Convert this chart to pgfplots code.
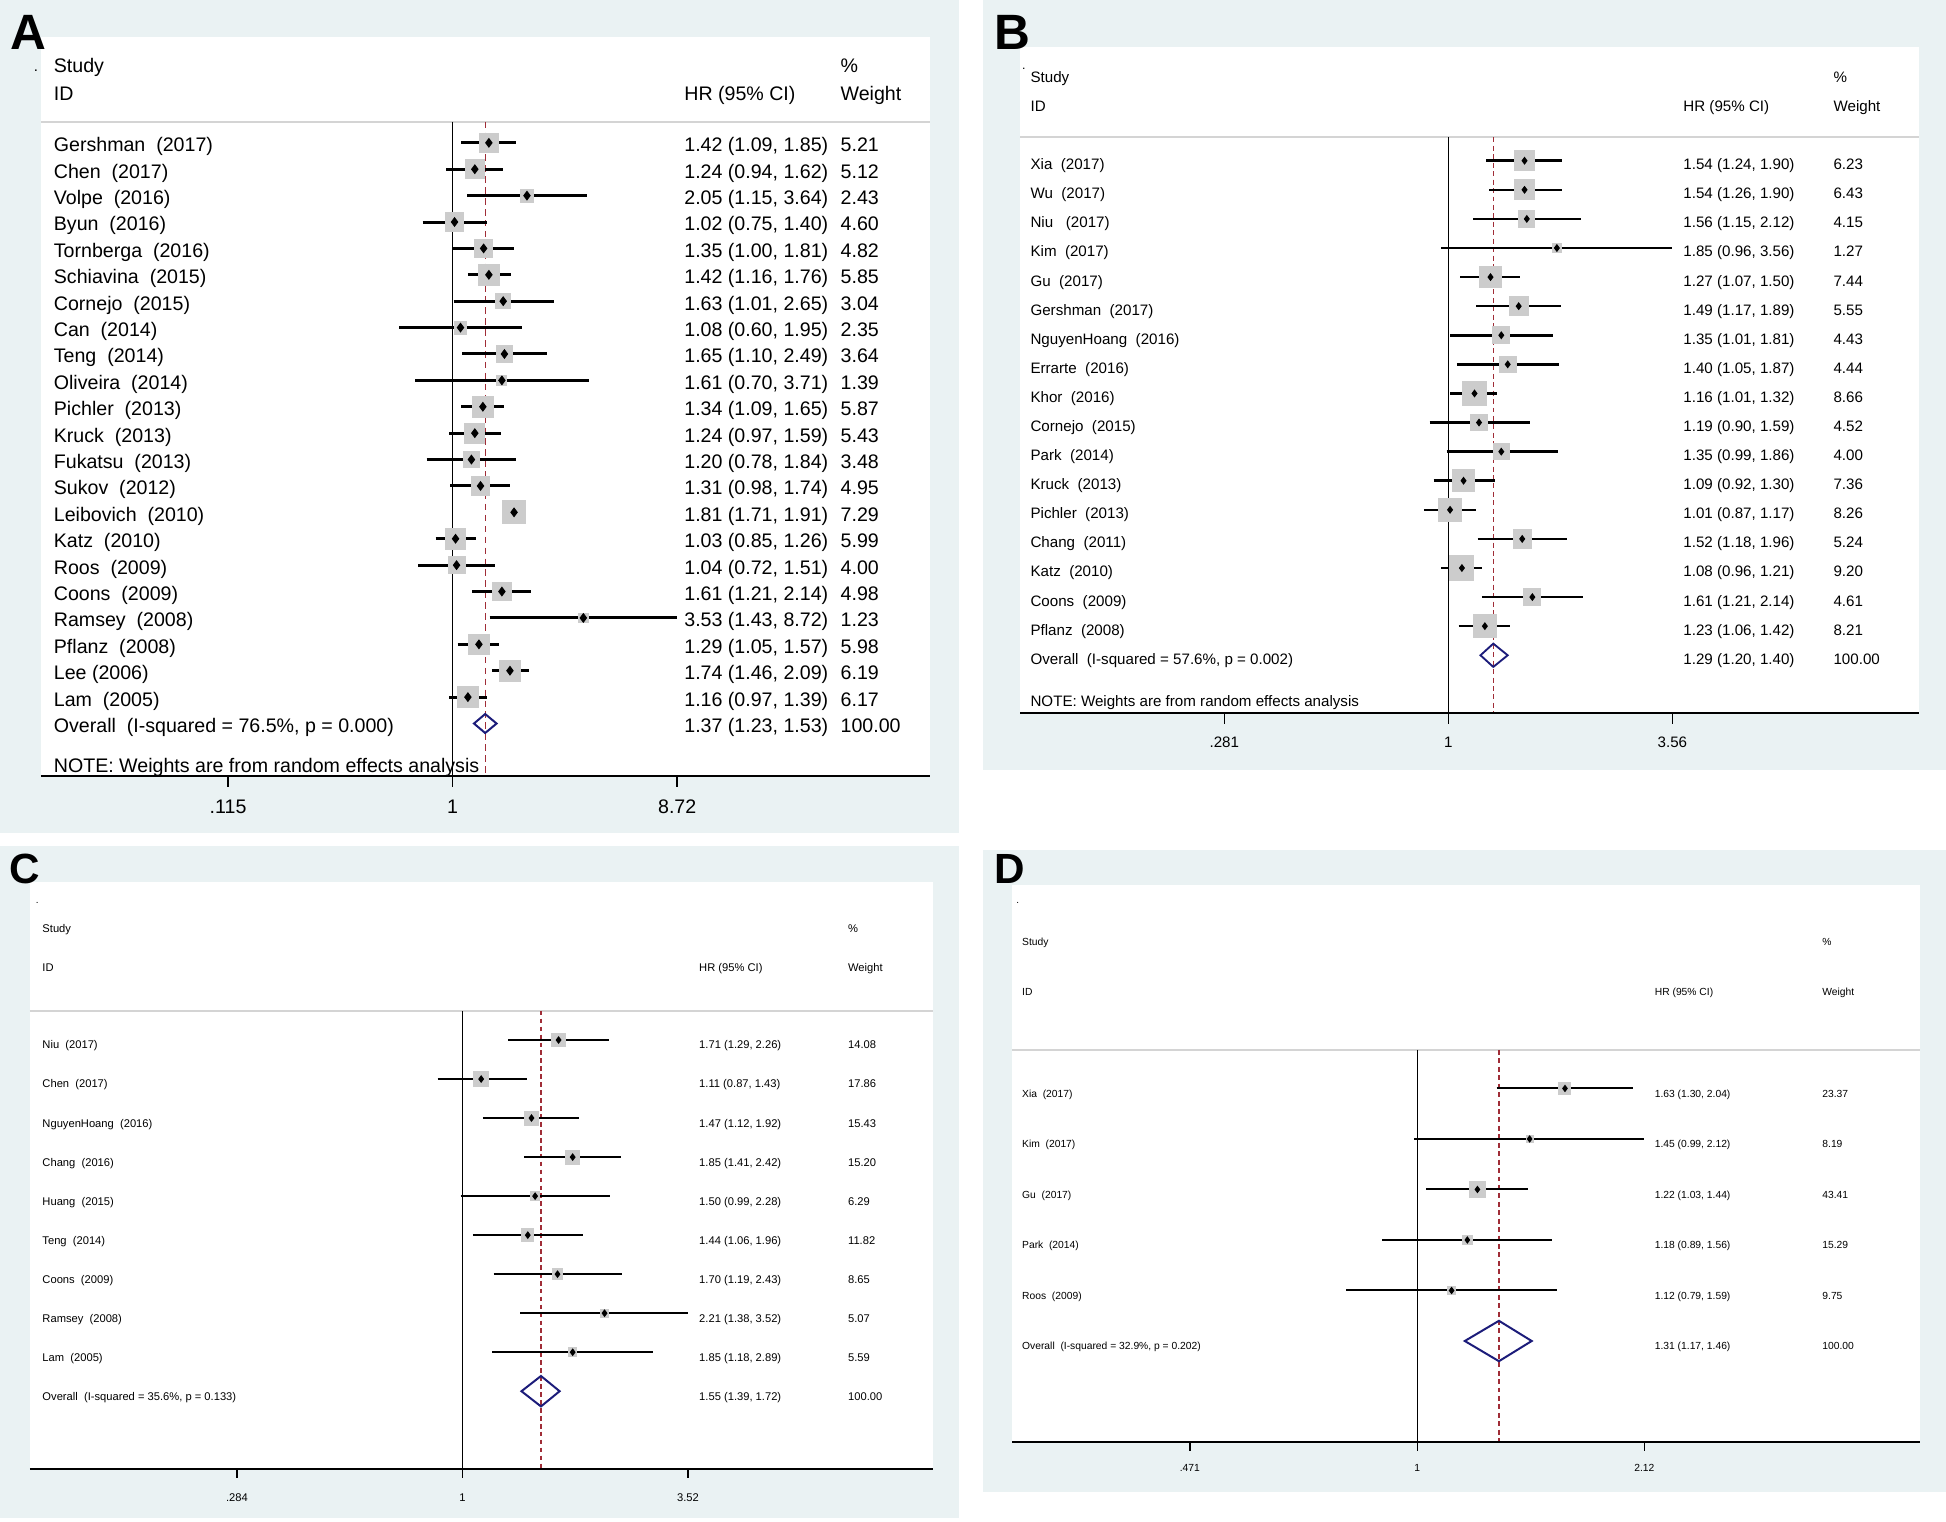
\documentclass[border=0pt]{standalone}
\usepackage{fontspec}
\setmainfont{Liberation Sans}
\usepackage{pgfplots}
\usepackage{pgfplotstable}
\pgfplotsset{compat=1.18}

\definecolor{bgcol}{RGB}{234,242,243}
\definecolor{boxgray}{RGB}{204,204,204}
\definecolor{navyd}{RGB}{28,28,122}
\definecolor{maroon}{RGB}{160,45,55}
\definecolor{headgray}{RGB}{212,212,212}

\tikzset{
 txtA/.style={anchor=west,inner sep=0pt,text height=0.72em,text depth=0pt,font=\fontsize{7.9}{9.5}\selectfont},
 txtB/.style={anchor=west,inner sep=0pt,text height=0.72em,text depth=0pt,font=\fontsize{6.1}{7.3}\selectfont},
 txtC/.style={anchor=west,inner sep=0pt,text height=0.72em,text depth=0pt,font=\fontsize{4.5}{5.4}\selectfont},
 txtD/.style={anchor=west,inner sep=0pt,text height=0.72em,text depth=0pt,font=\fontsize{4.15}{5}\selectfont},
 tkA/.style={txtA,anchor=center},
 tkB/.style={txtB,anchor=center},
 tkC/.style={txtC,anchor=center},
 tkD/.style={txtD,anchor=center},
 letter/.style={anchor=base west,inner sep=0pt,font=\bfseries\fontsize{#1}{#1}\selectfont}
}

\newcommand\rowt[5]{%
 \node[#1] at ({rel axis cs:\nx,0}|-{axis cs:1,#2}) {#3};
 \node[#1] at ({rel axis cs:\hx,0}|-{axis cs:1,#2}) {#4};
 \node[#1] at ({rel axis cs:\wx,0}|-{axis cs:1,#2}) {#5};}

\pgfplotstableread{
row hr lo hi w
1 1.42 1.09 1.85 5.21
2 1.24 0.94 1.62 5.12
3 2.05 1.15 3.64 2.43
4 1.02 0.75 1.40 4.60
5 1.35 1.00 1.81 4.82
6 1.42 1.16 1.76 5.85
7 1.63 1.01 2.65 3.04
8 1.08 0.60 1.95 2.35
9 1.65 1.10 2.49 3.64
10 1.61 0.70 3.71 1.39
11 1.34 1.09 1.65 5.87
12 1.24 0.97 1.59 5.43
13 1.20 0.78 1.84 3.48
14 1.31 0.98 1.74 4.95
15 1.81 1.71 1.91 7.29
16 1.03 0.85 1.26 5.99
17 1.04 0.72 1.51 4.00
18 1.61 1.21 2.14 4.98
19 3.53 1.43 8.72 1.23
20 1.29 1.05 1.57 5.98
21 1.74 1.46 2.09 6.19
22 1.16 0.97 1.39 6.17
}\dataA

\pgfplotstableread{
row hr lo hi w
1 1.54 1.24 1.90 6.23
2 1.54 1.26 1.90 6.43
3 1.56 1.15 2.12 4.15
4 1.85 0.96 3.56 1.27
5 1.27 1.07 1.50 7.44
6 1.49 1.17 1.89 5.55
7 1.35 1.01 1.81 4.43
8 1.40 1.05 1.87 4.44
9 1.16 1.01 1.32 8.66
10 1.19 0.90 1.59 4.52
11 1.35 0.99 1.86 4.00
12 1.09 0.92 1.30 7.36
13 1.01 0.87 1.17 8.26
14 1.52 1.18 1.96 5.24
15 1.08 0.96 1.21 9.20
16 1.61 1.21 2.14 4.61
17 1.23 1.06 1.42 8.21
}\dataB

\pgfplotstableread{
row hr lo hi w
1 1.71 1.29 2.26 14.08
2 1.11 0.87 1.43 17.86
3 1.47 1.12 1.92 15.43
4 1.85 1.41 2.42 15.20
5 1.50 0.99 2.28 6.29
6 1.44 1.06 1.96 11.82
7 1.70 1.19 2.43 8.65
8 2.21 1.38 3.52 5.07
9 1.85 1.18 2.89 5.59
}\dataC

\pgfplotstableread{
row hr lo hi w
1 1.63 1.30 2.04 23.37
2 1.45 0.99 2.12 8.19
3 1.22 1.03 1.44 43.41
4 1.18 0.89 1.56 15.29
5 1.12 0.79 1.59 9.75
}\dataD

\pgfplotsset{boxes/.style={only marks, mark=square*, scatter, point meta=\thisrow{w},
  mark options={draw=boxgray, fill=boxgray},
  scatter/use mapped color={draw=boxgray, fill=boxgray},
  visualization depends on={\thisrow{w} \as \wt},
  scatter/@pre marker code/.append style={/tikz/mark size={#1*sqrt(\wt)}}}}

\begin{document}
\begin{tikzpicture}
% page and panel backgrounds
\fill[white] (0,0) rectangle (784pt,-613pt);
\fill[bgcol] (0,0) rectangle (386.5pt,-335.5pt);
\fill[bgcol] (396pt,0) rectangle (784pt,-310.25pt);
\fill[bgcol] (0,-341pt) rectangle (386.5pt,-611.5pt);
\fill[bgcol] (396pt,-342.5pt) rectangle (784pt,-601pt);
% white plot regions
\fill[white] (16.5pt,-15pt) rectangle (374.5pt,-312.75pt);
\fill[white] (411pt,-19pt) rectangle (773pt,-287.43pt);
\fill[white] (12pt,-355.5pt) rectangle (376pt,-591.92pt);
\fill[white] (407.8pt,-356.5pt) rectangle (773.5pt,-580.95pt);

% ================= Panel A =================
\def\nx{0.01397}\def\hx{0.7235}\def\wx{0.8994}
\begin{axis}[xmode=log, y dir=reverse, hide axis, scale only axis, clip=false,
  anchor=south west, unbounded coords=jump,
  at={(16.5pt,-312.75pt)}, width=358pt, height=297.75pt,
  xmin=0.01894, xmax=99.3, ymin=-3, ymax=25]
\addplot[headgray, line width=0.8pt] coordinates {(0.01894,0.2) (99.3,0.2)};
\addplot[black, line width=0.8pt] coordinates {(1,0.2) (1,25)};
\addplot[boxes=1.7] table[x=hr, y=row]{\dataA};
\addplot[maroon, line width=0.45pt, dash pattern=on 2.6pt off 1.8pt] coordinates {(1.37,0.2) (1.37,25)};
\addplot[black, line width=1.2pt] coordinates {
(1.09,1)(1.85,1) (nan,nan) (0.94,2)(1.62,2) (nan,nan) (1.15,3)(3.64,3) (nan,nan)
(0.75,4)(1.40,4) (nan,nan) (1.00,5)(1.81,5) (nan,nan) (1.16,6)(1.76,6) (nan,nan)
(1.01,7)(2.65,7) (nan,nan) (0.60,8)(1.95,8) (nan,nan) (1.10,9)(2.49,9) (nan,nan)
(0.70,10)(3.71,10) (nan,nan) (1.09,11)(1.65,11) (nan,nan) (0.97,12)(1.59,12) (nan,nan)
(0.78,13)(1.84,13) (nan,nan) (0.98,14)(1.74,14) (nan,nan) (1.71,15)(1.91,15) (nan,nan)
(0.85,16)(1.26,16) (nan,nan) (0.72,17)(1.51,17) (nan,nan) (1.21,18)(2.14,18) (nan,nan)
(1.43,19)(8.72,19) (nan,nan) (1.05,20)(1.57,20) (nan,nan) (1.46,21)(2.09,21) (nan,nan)
(0.97,22)(1.39,22)};
\addplot[only marks, mark=diamond*, mark size=1.7pt, black, mark options={draw=black,fill=black}] table[x=hr, y=row]{\dataA};
\addplot[navyd, line width=0.8pt] coordinates {(1.23,23) (1.37,22.64) (1.53,23) (1.37,23.36)} -- cycle;
\addplot[black, line width=0.95pt] coordinates {(0.01894,25) (99.3,25)};
\addplot[black, line width=0.7pt] coordinates {(0.115,25)(0.115,25.4) (nan,nan) (1,25)(1,25.4) (nan,nan) (8.72,25)(8.72,25.4)};
\node[tkA] at (axis cs:0.115,26.06) {.115};
\node[tkA] at (axis cs:1,26.06) {1};
\node[tkA] at (axis cs:8.72,26.06) {8.72};
\node[txtA] at ({rel axis cs:\nx,0}|-{axis cs:1,-2}) {Study};
\node[txtA] at ({rel axis cs:\nx,0}|-{axis cs:1,-0.95}) {ID};
\node[txtA] at ({rel axis cs:\hx,0}|-{axis cs:1,-0.95}) {HR (95\% CI)};
\node[txtA] at ({rel axis cs:\wx,0}|-{axis cs:1,-2}) {\%};
\node[txtA] at ({rel axis cs:\wx,0}|-{axis cs:1,-0.95}) {Weight};
\rowt{txtA}{1}{Gershman~~(2017)}{1.42 (1.09, 1.85)}{5.21}
\rowt{txtA}{2}{Chen~~(2017)}{1.24 (0.94, 1.62)}{5.12}
\rowt{txtA}{3}{Volpe~~(2016)}{2.05 (1.15, 3.64)}{2.43}
\rowt{txtA}{4}{Byun~~(2016)}{1.02 (0.75, 1.40)}{4.60}
\rowt{txtA}{5}{Tornberga~~(2016)}{1.35 (1.00, 1.81)}{4.82}
\rowt{txtA}{6}{Schiavina~~(2015)}{1.42 (1.16, 1.76)}{5.85}
\rowt{txtA}{7}{Cornejo~~(2015)}{1.63 (1.01, 2.65)}{3.04}
\rowt{txtA}{8}{Can~~(2014)}{1.08 (0.60, 1.95)}{2.35}
\rowt{txtA}{9}{Teng~~(2014)}{1.65 (1.10, 2.49)}{3.64}
\rowt{txtA}{10}{Oliveira~~(2014)}{1.61 (0.70, 3.71)}{1.39}
\rowt{txtA}{11}{Pichler~~(2013)}{1.34 (1.09, 1.65)}{5.87}
\rowt{txtA}{12}{Kruck~~(2013)}{1.24 (0.97, 1.59)}{5.43}
\rowt{txtA}{13}{Fukatsu~~(2013)}{1.20 (0.78, 1.84)}{3.48}
\rowt{txtA}{14}{Sukov~~(2012)}{1.31 (0.98, 1.74)}{4.95}
\rowt{txtA}{15}{Leibovich~~(2010)}{1.81 (1.71, 1.91)}{7.29}
\rowt{txtA}{16}{Katz~~(2010)}{1.03 (0.85, 1.26)}{5.99}
\rowt{txtA}{17}{Roos~~(2009)}{1.04 (0.72, 1.51)}{4.00}
\rowt{txtA}{18}{Coons~~(2009)}{1.61 (1.21, 2.14)}{4.98}
\rowt{txtA}{19}{Ramsey~~(2008)}{3.53 (1.43, 8.72)}{1.23}
\rowt{txtA}{20}{Pflanz~~(2008)}{1.29 (1.05, 1.57)}{5.98}
\rowt{txtA}{21}{Lee (2006)}{1.74 (1.46, 2.09)}{6.19}
\rowt{txtA}{22}{Lam~~(2005)}{1.16 (0.97, 1.39)}{6.17}
\rowt{txtA}{23}{Overall~~(I-squared = 76.5\%, p = 0.000)}{1.37 (1.23, 1.53)}{100.00}
\node[txtA] at ({rel axis cs:\nx,0}|-{axis cs:1,24.5}) {NOTE: Weights are from random effects analysis};
\end{axis}

% ================= Panel B =================
\def\nx{0.011}\def\hx{0.7376}\def\wx{0.9047}
\begin{axis}[xmode=log, y dir=reverse, hide axis, scale only axis, clip=false,
  anchor=south west, unbounded coords=jump,
  at={(411pt,-287.43pt)}, width=362pt, height=269.56pt,
  xmin=0.0884, xmax=14.37, ymin=-3, ymax=20]
\addplot[headgray, line width=0.8pt] coordinates {(0.0884,0.2) (14.37,0.2)};
\addplot[black, line width=0.6pt] coordinates {(1,0.2) (1,20)};
\addplot[boxes=1.6] table[x=hr, y=row]{\dataB};
\addplot[maroon, line width=0.45pt, dash pattern=on 2pt off 1.4pt] coordinates {(1.29,0.2) (1.29,20)};
\addplot[black, line width=1pt] coordinates {
(1.24,1)(1.90,1) (nan,nan) (1.26,2)(1.90,2) (nan,nan) (1.15,3)(2.12,3) (nan,nan)
(0.96,4)(3.56,4) (nan,nan) (1.07,5)(1.50,5) (nan,nan) (1.17,6)(1.89,6) (nan,nan)
(1.01,7)(1.81,7) (nan,nan) (1.05,8)(1.87,8) (nan,nan) (1.01,9)(1.32,9) (nan,nan)
(0.90,10)(1.59,10) (nan,nan) (0.99,11)(1.86,11) (nan,nan) (0.92,12)(1.30,12) (nan,nan)
(0.87,13)(1.17,13) (nan,nan) (1.18,14)(1.96,14) (nan,nan) (0.96,15)(1.21,15) (nan,nan)
(1.21,16)(2.14,16) (nan,nan) (1.06,17)(1.42,17)};
\addplot[only marks, mark=diamond*, mark size=1.3pt, black, mark options={draw=black,fill=black}] table[x=hr, y=row]{\dataB};
\addplot[navyd, line width=0.75pt] coordinates {(1.20,18) (1.29,17.6) (1.40,18) (1.29,18.4)} -- cycle;
\addplot[black, line width=0.8pt] coordinates {(0.0884,20) (14.37,20)};
\addplot[black, line width=0.6pt] coordinates {(0.281,20)(0.281,20.37) (nan,nan) (1,20)(1,20.37) (nan,nan) (3.56,20)(3.56,20.37)};
\node[tkB] at (axis cs:0.281,20.86) {.281};
\node[tkB] at (axis cs:1,20.86) {1};
\node[tkB] at (axis cs:3.56,20.86) {3.56};
\node[txtB] at ({rel axis cs:\nx,0}|-{axis cs:1,-2}) {Study};
\node[txtB] at ({rel axis cs:\nx,0}|-{axis cs:1,-1}) {ID};
\node[txtB] at ({rel axis cs:\hx,0}|-{axis cs:1,-1}) {HR (95\% CI)};
\node[txtB] at ({rel axis cs:\wx,0}|-{axis cs:1,-2}) {\%};
\node[txtB] at ({rel axis cs:\wx,0}|-{axis cs:1,-1}) {Weight};
\rowt{txtB}{1}{Xia~~(2017)}{1.54 (1.24, 1.90)}{6.23}
\rowt{txtB}{2}{Wu~~(2017)}{1.54 (1.26, 1.90)}{6.43}
\rowt{txtB}{3}{Niu~~~(2017)}{1.56 (1.15, 2.12)}{4.15}
\rowt{txtB}{4}{Kim~~(2017)}{1.85 (0.96, 3.56)}{1.27}
\rowt{txtB}{5}{Gu~~(2017)}{1.27 (1.07, 1.50)}{7.44}
\rowt{txtB}{6}{Gershman~~(2017)}{1.49 (1.17, 1.89)}{5.55}
\rowt{txtB}{7}{NguyenHoang~~(2016)}{1.35 (1.01, 1.81)}{4.43}
\rowt{txtB}{8}{Errarte~~(2016)}{1.40 (1.05, 1.87)}{4.44}
\rowt{txtB}{9}{Khor~~(2016)}{1.16 (1.01, 1.32)}{8.66}
\rowt{txtB}{10}{Cornejo~~(2015)}{1.19 (0.90, 1.59)}{4.52}
\rowt{txtB}{11}{Park~~(2014)}{1.35 (0.99, 1.86)}{4.00}
\rowt{txtB}{12}{Kruck~~(2013)}{1.09 (0.92, 1.30)}{7.36}
\rowt{txtB}{13}{Pichler~~(2013)}{1.01 (0.87, 1.17)}{8.26}
\rowt{txtB}{14}{Chang~~(2011)}{1.52 (1.18, 1.96)}{5.24}
\rowt{txtB}{15}{Katz~~(2010)}{1.08 (0.96, 1.21)}{9.20}
\rowt{txtB}{16}{Coons~~(2009)}{1.61 (1.21, 2.14)}{4.61}
\rowt{txtB}{17}{Pflanz~~(2008)}{1.23 (1.06, 1.42)}{8.21}
\rowt{txtB}{18}{Overall~~(I-squared = 57.6\%, p = 0.002)}{1.29 (1.20, 1.40)}{100.00}
\node[txtB] at ({rel axis cs:\nx,0}|-{axis cs:1,19.47}) {NOTE: Weights are from random effects analysis};
\end{axis}

% ================= Panel C =================
\def\nx{0.0135}\def\hx{0.7404}\def\wx{0.9052}
\begin{axis}[xmode=log, y dir=reverse, hide axis, scale only axis, clip=false,
  anchor=south west, unbounded coords=jump,
  at={(12pt,-591.92pt)}, width=364pt, height=236.43pt,
  xmin=0.0894, xmax=13.84, ymin=-3.04, ymax=12]
\addplot[headgray, line width=0.8pt] coordinates {(0.0894,0.25) (13.84,0.25)};
\addplot[black, line width=0.6pt] coordinates {(1,0.25) (1,12)};
\addplot[boxes=0.725] table[x=hr, y=row]{\dataC};
\addplot[maroon, line width=0.45pt, dash pattern=on 1.9pt off 1.3pt] coordinates {(1.55,0.25) (1.55,12)};
\addplot[black, line width=0.8pt] coordinates {
(1.29,1)(2.26,1) (nan,nan) (0.87,2)(1.43,2) (nan,nan) (1.12,3)(1.92,3) (nan,nan)
(1.41,4)(2.42,4) (nan,nan) (0.99,5)(2.28,5) (nan,nan) (1.06,6)(1.96,6) (nan,nan)
(1.19,7)(2.43,7) (nan,nan) (1.38,8)(3.52,8) (nan,nan) (1.18,9)(2.89,9)};
\addplot[only marks, mark=diamond*, mark size=1.25pt, black, mark options={draw=black,fill=black}] table[x=hr, y=row]{\dataC};
\addplot[navyd, line width=0.8pt] coordinates {(1.39,10) (1.55,9.61) (1.72,10) (1.55,10.39)} -- cycle;
\addplot[black, line width=0.8pt] coordinates {(0.0894,12) (13.84,12)};
\addplot[black, line width=0.6pt] coordinates {(0.284,12)(0.284,12.23) (nan,nan) (1,12)(1,12.23) (nan,nan) (3.52,12)(3.52,12.23)};
\node[tkC] at (axis cs:0.284,12.61) {.284};
\node[tkC] at (axis cs:1,12.61) {1};
\node[tkC] at (axis cs:3.52,12.61) {3.52};
\node[txtC] at ({rel axis cs:\nx,0}|-{axis cs:1,-1.99}) {Study};
\node[txtC] at ({rel axis cs:\nx,0}|-{axis cs:1,-0.98}) {ID};
\node[txtC] at ({rel axis cs:\hx,0}|-{axis cs:1,-0.98}) {HR (95\% CI)};
\node[txtC] at ({rel axis cs:\wx,0}|-{axis cs:1,-1.99}) {\%};
\node[txtC] at ({rel axis cs:\wx,0}|-{axis cs:1,-0.98}) {Weight};
\rowt{txtC}{1}{Niu~~(2017)}{1.71 (1.29, 2.26)}{14.08}
\rowt{txtC}{2}{Chen~~(2017)}{1.11 (0.87, 1.43)}{17.86}
\rowt{txtC}{3}{NguyenHoang~~(2016)}{1.47 (1.12, 1.92)}{15.43}
\rowt{txtC}{4}{Chang~~(2016)}{1.85 (1.41, 2.42)}{15.20}
\rowt{txtC}{5}{Huang~~(2015)}{1.50 (0.99, 2.28)}{6.29}
\rowt{txtC}{6}{Teng~~(2014)}{1.44 (1.06, 1.96)}{11.82}
\rowt{txtC}{7}{Coons~~(2009)}{1.70 (1.19, 2.43)}{8.65}
\rowt{txtC}{8}{Ramsey~~(2008)}{2.21 (1.38, 3.52)}{5.07}
\rowt{txtC}{9}{Lam~~(2005)}{1.85 (1.18, 2.89)}{5.59}
\rowt{txtC}{10}{Overall~~(I-squared = 35.6\%, p = 0.133)}{1.55 (1.39, 1.72)}{100.00}
\end{axis}

% ================= Panel D =================
\def\nx{0.0104}\def\hx{0.7074}\def\wx{0.892}
\begin{axis}[xmode=log, y dir=reverse, hide axis, scale only axis, clip=false,
  anchor=south west, unbounded coords=jump,
  at={(407.8pt,-580.95pt)}, width=365.7pt, height=224.46pt,
  xmin=0.2617, xmax=5.276, ymin=-3.03, ymax=8]
\addplot[headgray, line width=0.8pt] coordinates {(0.2617,0.238) (5.276,0.238)};
\addplot[black, line width=0.6pt] coordinates {(1,0.238) (1,8)};
\addplot[boxes=0.5] table[x=hr, y=row]{\dataD};
\addplot[maroon, line width=0.45pt, dash pattern=on 2pt off 1.4pt] coordinates {(1.31,0.238) (1.31,8)};
\addplot[black, line width=0.8pt] coordinates {
(1.30,1)(2.04,1) (nan,nan) (0.99,2)(2.12,2) (nan,nan) (1.03,3)(1.44,3) (nan,nan)
(0.89,4)(1.56,4) (nan,nan) (0.79,5)(1.59,5)};
\addplot[only marks, mark=diamond*, mark size=1.2pt, black, mark options={draw=black,fill=black}] table[x=hr, y=row]{\dataD};
\addplot[navyd, line width=0.8pt] coordinates {(1.17,6) (1.31,5.6) (1.46,6) (1.31,6.4)} -- cycle;
\addplot[black, line width=0.8pt] coordinates {(0.2617,8) (5.276,8)};
\addplot[black, line width=0.6pt] coordinates {(0.471,8)(0.471,8.18) (nan,nan) (1,8)(1,8.18) (nan,nan) (2.12,8)(2.12,8.18)};
\node[tkD] at (axis cs:0.471,8.4) {.471};
\node[tkD] at (axis cs:1,8.4) {1};
\node[tkD] at (axis cs:2.12,8.4) {2.12};
\node[txtD] at ({rel axis cs:\nx,0}|-{axis cs:1,-2}) {Study};
\node[txtD] at ({rel axis cs:\nx,0}|-{axis cs:1,-1.01}) {ID};
\node[txtD] at ({rel axis cs:\hx,0}|-{axis cs:1,-1.01}) {HR (95\% CI)};
\node[txtD] at ({rel axis cs:\wx,0}|-{axis cs:1,-2}) {\%};
\node[txtD] at ({rel axis cs:\wx,0}|-{axis cs:1,-1.01}) {Weight};
\rowt{txtD}{1}{Xia~~(2017)}{1.63 (1.30, 2.04)}{23.37}
\rowt{txtD}{2}{Kim~~(2017)}{1.45 (0.99, 2.12)}{8.19}
\rowt{txtD}{3}{Gu~~(2017)}{1.22 (1.03, 1.44)}{43.41}
\rowt{txtD}{4}{Park~~(2014)}{1.18 (0.89, 1.56)}{15.29}
\rowt{txtD}{5}{Roos~~(2009)}{1.12 (0.79, 1.59)}{9.75}
\rowt{txtD}{6}{Overall~~(I-squared = 32.9\%, p = 0.202)}{1.31 (1.17, 1.46)}{100.00}
\end{axis}

% small stray dots of the original and panel letters
\node[anchor=base,inner sep=0pt,font=\fontsize{6}{6}\selectfont] at (14.5pt,-29pt) {.};
\node[anchor=base,inner sep=0pt,font=\fontsize{5}{5}\selectfont] at (412.5pt,-28pt) {.};
\node[anchor=base,inner sep=0pt,font=\fontsize{4}{4}\selectfont] at (15pt,-364pt) {.};
\node[anchor=base,inner sep=0pt,font=\fontsize{4}{4}\selectfont] at (410pt,-364pt) {.};
\node[letter=20] at (4pt,-20pt) {A};
\node[letter=20] at (400.5pt,-20pt) {B};
\node[letter=17] at (3.8pt,-355.8pt) {C};
\node[letter=17] at (400.5pt,-355.8pt) {D};
\end{tikzpicture}
\end{document}
